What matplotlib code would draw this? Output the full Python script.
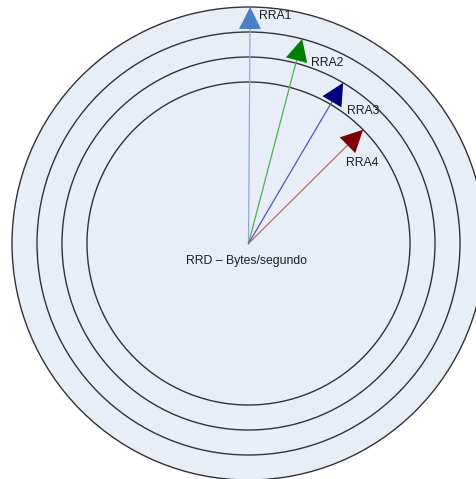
import numpy as np
import matplotlib
matplotlib.use("Agg")
import matplotlib.pyplot as plt
from matplotlib.patches import Circle, Polygon

# ring radii (px), outermost first
rings = [236.5, 211.5, 186.5, 161.5]
labels = ['RRA1', 'RRA2', 'RRA3', 'RRA4']
angles = [0.4, 14.7, 30.5, 45.2]          # degrees from vertical
ring_of = [0, 1, 2, 3]                     # which ring the arrow reaches
head_colors = ['#4a7ec6', '#008000', '#000080', '#800000']
shaft_colors = ['#8eaadb', '#4caf50', '#5555c0', '#c06868']
center_text = 'RRD \u2013 Bytes/segundo'

# label positions relative to arrow tip (px)
label_offsets = [(9, 9), (9, 24), (4, 28), (-17, 33)]

cx, cy = 248.5, 243.5
W, H = 476, 479

fig = plt.figure(figsize=(W / 100, H / 100), dpi=100)
ax = fig.add_axes([0, 0, 1, 1])
ax.set_xlim(0, W)
ax.set_ylim(H, 0)
ax.set_aspect('equal')
ax.axis('off')

for r in rings:
    ax.add_patch(Circle((cx, cy), r, facecolor='#e8eef8', edgecolor='#333333', lw=1.0))

hl, hw = 22, 22
for lab, a, ri, hc, sc, (ox, oy) in zip(labels, angles, ring_of, head_colors, shaft_colors, label_offsets):
    t = np.radians(a)
    ux, uy = np.sin(t), -np.cos(t)
    r = rings[ri]
    tx, ty = cx + r * ux, cy + r * uy
    bx, by = tx - hl * ux, ty - hl * uy
    ax.plot([cx, bx], [cy, by], color=sc, lw=0.9, zorder=3)
    px, py = -uy, ux
    tri = [(tx, ty), (bx + px * hw / 2, by + py * hw / 2), (bx - px * hw / 2, by - py * hw / 2)]
    ax.add_patch(Polygon(tri, closed=True, facecolor=hc, edgecolor='none', zorder=4))
    ax.text(tx + ox, ty + oy, lab, fontsize=8.8, family='Liberation Sans',
            color='#1e1e1e', ha='left', va='center', zorder=5)

ax.text(cx - 2, 261, center_text, fontsize=8.8, family='Liberation Sans',
        color='#1e1e1e', ha='center', va='center', zorder=5)

fig.savefig('out.png', dpi=100)
